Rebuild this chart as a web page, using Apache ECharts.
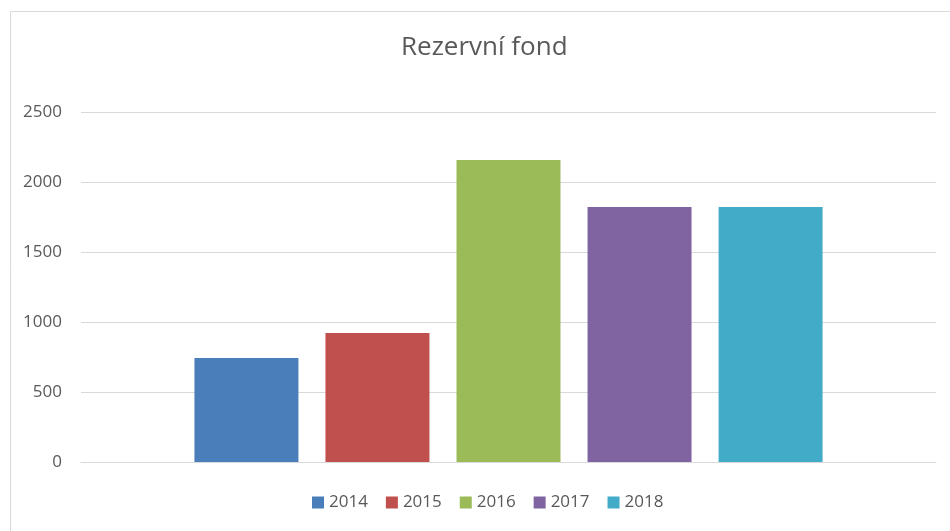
<!DOCTYPE html>
<html>
<head>
<meta charset="utf-8">
<script src="https://cdn.jsdelivr.net/npm/echarts@6/dist/echarts.min.js"></script>
<style>
  html, body { margin: 0; padding: 0; background: #fff; }
  #chart { width: 950px; height: 531px; }
</style>
</head>
<body>
<div id="chart"></div>
<script>
// data
const years = ['2014', '2015', '2016', '2017', '2018'];
const values = [743, 921, 2157, 1821, 1821];
const colors = ['#4a7ebb', '#c0504d', '#9bbb59', '#8064a2', '#42abc8'];
const yTicks = { min: 0, max: 2500, interval: 500 };

const chart = echarts.init(document.getElementById('chart'), null, { renderer: 'canvas' });

const font = '"Open Sans", sans-serif';

const series = years.map((y, i) => ({
    name: y,
    type: 'bar',
    data: [values[i]],
    barWidth: 104,
    barGap: '26%',
    itemStyle: { color: colors[i] },
    emphasis: { disabled: true }
}));

const option = {
    animation: false,
    backgroundColor: '#fff',
    color: colors,
    title: {
        text: 'Rezervní fond',
        left: 396,
        top: 30,
        textStyle: { fontFamily: font, fontSize: 26, fontWeight: 'normal', color: '#595959' }
    },
    legend: {
        data: years,
        left: 312,
        top: 494,
        padding: 0,
        icon: 'rect',
        itemWidth: 12,
        itemHeight: 12,
        itemGap: 18,
        textStyle: { fontFamily: font, fontSize: 17, color: '#595959' }
    },
    grid: { left: 81, right: 14, top: 112, bottom: 69, containLabel: false },
    xAxis: {
        type: 'category',
        data: [''],
        axisLine: { lineStyle: { color: '#d9d9d9', width: 1 } },
        axisTick: { show: false },
        axisLabel: { show: false }
    },
    yAxis: {
        type: 'value',
        min: yTicks.min,
        max: yTicks.max,
        interval: yTicks.interval,
        axisLine: { show: false },
        axisTick: { show: false },
        axisLabel: {
            fontFamily: font, fontSize: 17, color: '#595959', margin: 19,
            formatter: (v) => String(v)
        },
        splitLine: { lineStyle: { color: '#d9d9d9', width: 1 } }
    },
    graphic: [{
        type: 'rect',
        left: 8,
        top: 9,
        shape: { width: 1000, height: 1000 },
        style: { fill: 'none', stroke: '#d9d9d9', lineWidth: 1 },
        silent: true
    }],
    series: series
};

chart.setOption(option);
</script>
</body>
</html>
